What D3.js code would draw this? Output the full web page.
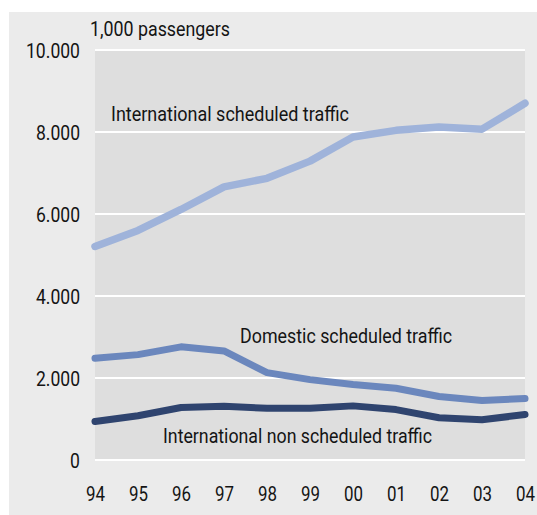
<!DOCTYPE html>
<html>
<head>
<meta charset="utf-8">
<script src="https://cdn.jsdelivr.net/npm/d3@7"></script>
<style>
  body { margin: 0; background: #fff; }
  svg text { font-family: Roboto, "Open Sans", sans-serif; fill: #141414; }
</style>
</head>
<body>
<svg id="chart" width="537" height="515"></svg>
<script>
// years on the x axis
const years = ["94", "95", "96", "97", "98", "99", "00", "01", "02", "03", "04"];
// 1,000 passengers
const intlScheduled = [5210, 5600, 6110, 6660, 6870, 7290, 7880, 8040, 8120, 8070, 8700];
const domesticScheduled = [2480, 2570, 2760, 2660, 2130, 1960, 1840, 1750, 1550, 1450, 1500];
const intlNonScheduled = [940, 1080, 1280, 1310, 1260, 1260, 1320, 1230, 1030, 980, 1110];
const yTicks = [0, 2000, 4000, 6000, 8000, 10000];

const svg = d3.select('#chart');
const plotLeft = 95, plotRight = 525, plotTop = 50, plotBottom = 460;
const fontSize = 20;

// squeeze text horizontally, the original face is a narrow one
function condense(sel, factor) {
  sel.each(function() {
    const w = this.getComputedTextLength();
    d3.select(this)
      .attr('textLength', w * factor)
      .attr('lengthAdjust', 'spacingAndGlyphs');
  });
}

// outer panel
svg.append('rect')
  .attr('x', 9).attr('y', 12)
  .attr('width', 528).attr('height', 503)
  .attr('fill', '#ebebeb');

// plot background
svg.append('rect')
  .attr('x', plotLeft).attr('y', plotTop)
  .attr('width', plotRight - plotLeft).attr('height', plotBottom - plotTop)
  .attr('fill', '#dedede');

const x = d3.scalePoint().domain(years).range([plotLeft, plotRight]);
const y = d3.scaleLinear().domain([0, 10000]).range([plotBottom, plotTop]);

const fmt = v => v === 0 ? '0' : d3.format(',')(v).replace(',', '.');

// gridlines
svg.append('g')
  .selectAll('line')
  .data(yTicks)
  .enter().append('line')
  .attr('x1', plotLeft).attr('x2', plotRight)
  .attr('y1', d => y(d)).attr('y2', d => y(d))
  .attr('stroke', '#fff')
  .attr('stroke-width', 2);

// y axis labels
const yAxis = svg.append('g')
  .attr('transform', `translate(${plotLeft - 15},0)`)
  .call(d3.axisLeft(y).tickValues(yTicks).tickFormat(fmt).tickSize(0).tickPadding(0));
yAxis.select('.domain').remove();
yAxis.attr('font-family', null).attr('font-size', null);
const yText = yAxis.selectAll('text')
  .attr('font-size', fontSize)
  .attr('dy', '0.36em');
// "10.000" is about 54px wide in the original
const yWidest = d3.max(yText.nodes(), n => n.getComputedTextLength());
yText.call(condense, 54 / yWidest);

// x axis labels
const xAxis = svg.append('g')
  .attr('transform', `translate(0,${plotBottom + 26})`)
  .call(d3.axisBottom(x).tickSize(0).tickPadding(0));
xAxis.select('.domain').remove();
xAxis.attr('font-family', null).attr('font-size', null);
const xText = xAxis.selectAll('text')
  .attr('font-size', fontSize)
  .attr('dy', '0.75em');
const xWidest = d3.max(xText.nodes(), n => n.getComputedTextLength());
xText.call(condense, 19 / xWidest);

const line = d3.line()
  .x((d, i) => x(years[i]))
  .y(d => y(d));

const series = [
  { values: intlScheduled, color: '#9fb3da', width: 7.5 },
  { values: domesticScheduled, color: '#6b87bd', width: 7 },
  { values: intlNonScheduled, color: '#2f446f', width: 7 }
];

svg.append('g')
  .selectAll('path')
  .data(series)
  .enter().append('path')
  .attr('d', d => line(d.values))
  .attr('fill', 'none')
  .attr('stroke', d => d.color)
  .attr('stroke-width', d => d.width)
  .attr('stroke-linejoin', 'round')
  .attr('stroke-linecap', 'round');

// labels
const labels = [
  { text: '1,000 passengers', x: 90, y: 36, w: 140 },
  { text: 'International scheduled traffic', x: 111, y: 121, w: 238 },
  { text: 'Domestic scheduled traffic', x: 240, y: 343, w: 212 },
  { text: 'International non scheduled traffic', x: 163, y: 443, w: 269 }
];
svg.append('g')
  .selectAll('text')
  .data(labels)
  .enter().append('text')
  .attr('x', d => d.x)
  .attr('y', d => d.y)
  .attr('font-size', fontSize)
  .attr('textLength', d => d.w)
  .attr('lengthAdjust', 'spacingAndGlyphs')
  .text(d => d.text);
</script>
</body>
</html>
